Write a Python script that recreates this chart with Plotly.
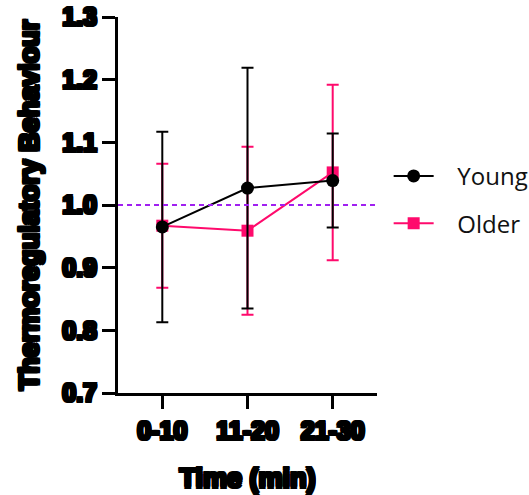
import plotly.graph_objects as go

categories = ["0-10", "11-20", "21-30"]
x_pos = [0, 1, 2]
young_mean = [0.965, 1.027, 1.039]
young_err = [0.152, 0.192, 0.075]
older_mean = [0.967, 0.959, 1.052]
older_err = [0.099, 0.134, 0.140]
y_ticks = [0.7, 0.8, 0.9, 1.0, 1.1, 1.2, 1.3]
reference_level = 1.0

PINK = "#FF0A6C"
BLACK = "#000000"
PURPLE = "#A020F0"

d = 1.5
offs = [(d, d), (-d, -d), (d, -d), (-d, d), (0, d), (0, -d), (d, 0), (-d, 0)]
outline = ", ".join(f"{a}px {b}px 0 #000" for a, b in offs)
tick_font = dict(family="Liberation Sans, Arial", size=25, color="black", weight="bold", shadow=outline)
title_font = dict(family="Liberation Sans, Arial", size=27, color="black", weight="bold", shadow=outline)

NB = "\u00a0\u00a0\u00a0"

fig = go.Figure()
fig.add_trace(go.Scatter(
    x=x_pos, y=older_mean, name=NB + "Older", mode="lines+markers",
    line=dict(color=PINK, width=2),
    marker=dict(symbol="square", size=12, color=PINK),
    error_y=dict(type="data", array=older_err, visible=True, color=PINK, thickness=2, width=6),
    legendrank=2, legendgroup="b",
))
fig.add_trace(go.Scatter(
    x=x_pos, y=young_mean, name=NB + "Young", mode="lines+markers",
    line=dict(color=BLACK, width=2),
    marker=dict(symbol="circle", size=13, color=BLACK),
    error_y=dict(type="data", array=young_err, visible=True, color=BLACK, thickness=2, width=6),
    legendrank=1, legendgroup="a",
))

fig.add_shape(type="line", xref="paper", x0=0, x1=1, yref="y", y0=reference_level, y1=reference_level,
              line=dict(color=PURPLE, width=2, dash="5px,4px"))

fig.update_layout(
    width=529, height=495,
    margin=dict(l=118, r=152, t=17, b=102, autoexpand=False),
    plot_bgcolor="white", paper_bgcolor="white",
    showlegend=True,
    legend=dict(x=1.045, xanchor="left", y=0.636, yanchor="top",
                font=dict(family="Open Sans", size=24, color="#111"),
                itemwidth=40, traceorder="grouped", tracegroupgap=13,
                bgcolor="rgba(0,0,0,0)"),
    xaxis=dict(range=[-0.52, 2.52], tickvals=x_pos, ticktext=categories,
               showline=True, linecolor="black", linewidth=3, mirror=False,
               ticks="outside", ticklen=13, tickwidth=3, tickcolor="black",
               showgrid=False, zeroline=False, tickfont=tick_font, automargin=False,
               title=dict(text="Time (min)", font=title_font, standoff=26)),
    yaxis=dict(range=[0.7, 1.3], tickvals=y_ticks, ticktext=[f"{v:.1f}" for v in y_ticks],
               showline=True, linecolor="black", linewidth=3,
               ticks="outside", ticklen=13, tickwidth=3, tickcolor="black",
               showgrid=False, zeroline=False, tickfont=tick_font, automargin=False,
               title=dict(text="Thermoregulatory Behaviour", font=title_font, standoff=16)),
)

fig.write_html("out.html")
